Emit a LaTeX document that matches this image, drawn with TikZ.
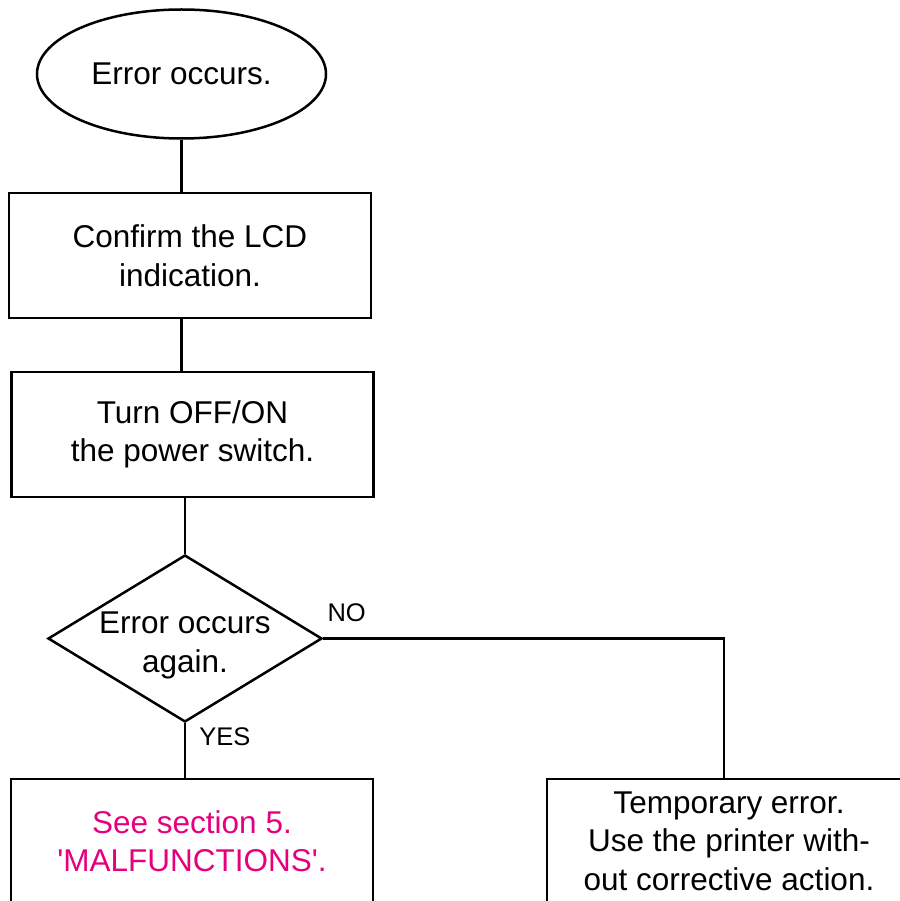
\documentclass[tikz,border=0pt]{standalone}
\usepackage{fontspec}
\setmainfont{Liberation Sans}
\usetikzlibrary{positioning,shapes.geometric}
\definecolor{cMagenta}{HTML}{E6007E}

\begin{document}
\begin{tikzpicture}[x=1pt,y=-1pt,line width=2.5pt,
      txt/.style={font=\fontsize{31.5}{38.5}\selectfont,align=center,inner sep=0pt},
      box/.style={draw,rectangle,txt,minimum width=362pt,minimum height=125pt},
      term/.style={draw,ellipse,txt,minimum width=289pt,minimum height=129pt},
      dec/.style={draw,diamond,minimum width=274pt,minimum height=167pt,inner sep=0pt},
      ans/.style={font=\fontsize{25.5}{25.5}\selectfont,inner sep=0pt}]
    \useasboundingbox (0,0) rectangle (899,901);
    \node[term] (err) at (181.5,74) {Error occurs.};
    \node[box] (lcd) at (190,255.5) {Confirm the LCD\\indication.};
    \node[box] (pwr) at (192.5,434.5) {Turn OFF/ON\\the power switch.};
    \node[dec] (chk) at (185,638.5) {};
    \node[txt] (chktxt) at ([yshift=-7pt]chk.center) {Error occurs\\again.};
    \node[box,text=cMagenta,minimum height=124pt] (see) at (192,841)
      {See section 5.\\\textquotesingle MALFUNCTIONS\textquotesingle.};
    \node[box,minimum width=364pt,minimum height=124pt] (tmp) at (729,841)
      {Temporary error.\\Use the printer with-\\out corrective action.};
    \node[ans,anchor=base west] (no) at ([xshift=3pt,yshift=17pt]chk.east) {NO};
    \node[ans,anchor=base west] (yes) at ([xshift=13pt,yshift=-22pt]chk.south) {YES};
    \draw (err.south) -- (err.south |- lcd.north);
    \draw (lcd.south -| err.south) -- (pwr.north -| err.south);
    \draw (pwr.south -| chk.north) -- (chk.north);
    \draw (chk.south) -- (chk.south |- see.north);
    \draw (chk.east) -| ([xshift=-5pt]tmp.north);
  \end{tikzpicture}
\end{document}
